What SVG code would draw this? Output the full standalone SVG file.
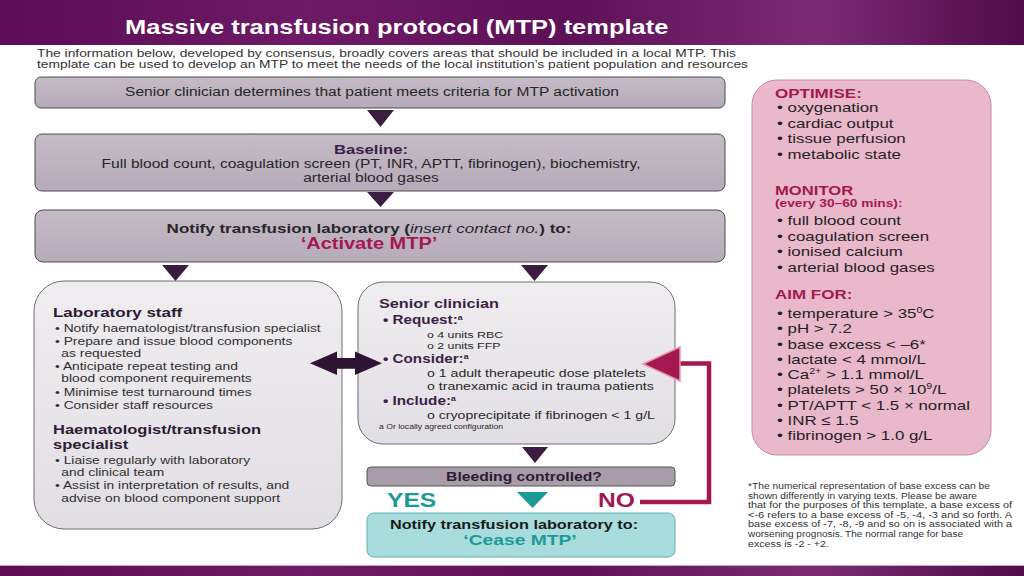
<svg xmlns="http://www.w3.org/2000/svg" width="1024" height="576" viewBox="0 0 1024 576">
<defs>
<linearGradient id="band" x1="0" y1="0" x2="1" y2="0">
<stop offset="0" stop-color="#5c0d55"/>
<stop offset="0.3" stop-color="#6e1a66"/>
<stop offset="0.55" stop-color="#5e1157"/>
<stop offset="0.8" stop-color="#7a2b73"/>
<stop offset="1" stop-color="#4f0b48"/>
</linearGradient>
<linearGradient id="lbox" x1="0" y1="0" x2="0" y2="1">
<stop offset="0" stop-color="#efedf0"/>
<stop offset="1" stop-color="#e2dfe4"/>
</linearGradient>
<linearGradient id="gbox" x1="0" y1="0" x2="0" y2="1">
<stop offset="0" stop-color="#c4bbc6"/>
<stop offset="1" stop-color="#b6acb9"/>
</linearGradient>
</defs>
<style>
text { font-family: "Liberation Sans", Arial, sans-serif; fill: #262626; }
.b { font-weight: bold; }
.pur { fill: #3b1f46; }
.red { fill: #a3184f; }
.teal { fill: #1b9b97; }
.gbox { fill: url(#gbox); stroke: #4d4d4d; stroke-width: 1; }
.lbox { fill: url(#lbox); stroke: #6e6e6e; stroke-width: 1; }
.tri { fill: #3b1d42; }
.lb { font-size: 11.05px; fill: #2e2e2e; }
.rb { font-size: 13.5px; fill: #222; }
.fn { font-size: 8.5px; fill: #333; }
</style>

<g id="header">
<rect x="0" y="0" width="1024" height="45" fill="url(#band)"/>
<text class="b" transform="translate(125 0) scale(1.3 1)" y="34.5" font-size="19.6" style="fill:#fff">Massive transfusion protocol (MTP) template</text>
<text x="37" y="57" font-size="11.3" textLength="699" lengthAdjust="spacingAndGlyphs" style="fill:#333">The information below, developed by consensus, broadly covers areas that should be included in a local MTP. This</text>
<text x="37" y="67.5" font-size="11.3" textLength="711" lengthAdjust="spacingAndGlyphs" style="fill:#333">template can be used to develop an MTP to meet the needs of the local institution’s patient population and resources</text>
</g>

<g id="activation">
<rect x="35" y="77" width="690" height="31" rx="6" class="gbox"/>
<text transform="translate(372 0) scale(1.25 1)" y="96.5" text-anchor="middle" font-size="12.45">Senior clinician determines that patient meets criteria for MTP activation</text>
</g>

<g id="baseline">
<rect x="35" y="134" width="690" height="57" rx="7" class="gbox"/>
<g transform="translate(371 0) scale(1.25 1)" text-anchor="middle">
<text class="b pur" y="154" font-size="13.3">Baseline:</text>
<text y="168" font-size="12.45">Full blood count, coagulation screen (PT, INR, APTT, fibrinogen), biochemistry,</text>
<text y="182" font-size="12.45">arterial blood gases</text>
</g>
</g>

<g id="notify-activate">
<rect x="35" y="210" width="690" height="52" rx="8" class="gbox"/>
<g transform="translate(369 0) scale(1.25 1)" text-anchor="middle">
<text class="b" y="233" font-size="13.6">Notify transfusion laboratory (<tspan font-weight="normal" font-style="italic">insert contact no.</tspan>) to:</text>
<text class="b red" y="249.5" font-size="16">‘Activate MTP’</text>
</g>
</g>

<g id="laboratory">
<rect x="34" y="281" width="308" height="248" rx="30" class="lbox"/>
<g transform="translate(53 0) scale(1.25 1)">
<text class="b" y="317" font-size="13.6" style="fill:#2d1a33">Laboratory staff</text>
<text class="lb" x="1.6" y="332">• Notify haematologist/transfusion  specialist</text>
<text class="lb" x="1.6" y="345">• Prepare and issue blood components</text>
<text class="lb" x="6.7" y="357">as requested</text>
<text class="lb" x="1.6" y="370">• Anticipate repeat testing and</text>
<text class="lb" x="6.7" y="382">blood component requirements</text>
<text class="lb" x="1.6" y="396">• Minimise test turnaround times</text>
<text class="lb" x="1.6" y="409">• Consider staff resources</text>
<text class="b" y="433.8" font-size="13.2" style="fill:#2d1a33">Haematologist/transfusion</text>
<text class="b" y="448.6" font-size="13.2" style="fill:#2d1a33">specialist</text>
<text class="lb" x="1.6" y="464">• Liaise regularly with laboratory</text>
<text class="lb" x="6.7" y="476">and clinical team</text>
<text class="lb" x="1.6" y="489">• Assist in interpretation of results, and</text>
<text class="lb" x="6.7" y="502">advise on blood component support</text>
</g>
</g>

<g id="senior-clinician">
<rect x="358" y="282" width="317" height="162" rx="25" class="lbox"/>
<g transform="translate(379 0) scale(1.25 1)">
<text class="b pur" y="308" font-size="13">Senior clinician</text>
<text class="b pur" x="3.2" y="324" font-size="12.2">• Request:<tspan font-size="7" dy="-4">a</tspan></text>
<text x="38.4" y="338" font-size="9.9">o 4 units RBC</text>
<text x="38.4" y="349" font-size="9.9">o 2 units FFP</text>
<text class="b pur" x="3.2" y="363" font-size="12.2">• Consider:<tspan font-size="7" dy="-4">a</tspan></text>
<text x="38.4" y="377" font-size="11.3">o 1 adult therapeutic dose platelets</text>
<text x="38.4" y="390" font-size="11.3">o  tranexamic acid in trauma patients</text>
<text class="b pur" x="3.2" y="405" font-size="12.2">• Include:<tspan font-size="7" dy="-4">a</tspan></text>
<text x="38.4" y="419" font-size="11.3">o cryoprecipitate if fibrinogen  &lt; 1 g/L</text>
<text x="0" y="429" font-size="6.9">a  Or locally agreed configuration</text>
</g>
</g>

<g id="bleeding-controlled">
<rect x="367" y="467" width="308" height="19" rx="4" fill="#a99ca9" stroke="#555"/>
<text class="b" transform="translate(524 0) scale(1.25 1)" y="481" text-anchor="middle" font-size="12.55" style="fill:#2e1a33">Bleeding controlled?</text>
</g>

<g id="cease">
<rect x="367" y="513" width="308" height="44" rx="7" fill="#a9dcdc" stroke="#5fb0b0"/>
<text class="b" transform="translate(514 0) scale(1.25 1)" y="529" text-anchor="middle" font-size="13" style="fill:#1a1a1a">Notify transfusion laboratory to:</text>
<text class="b teal" transform="translate(520 0) scale(1.25 1)" y="545" text-anchor="middle" font-size="15.4">‘Cease MTP’</text>
</g>

<g id="targets">
<rect x="752" y="80" width="239" height="375" rx="25" fill="#eab8cb" stroke="#c58aa2"/>
<g transform="translate(775 0) scale(1.25 1)">
<text class="b red" y="98" font-size="13.6">OPTIMISE:</text>
<text class="rb" x="1.6" y="112.5">• oxygenation</text>
<text class="rb" x="1.6" y="128">• cardiac output</text>
<text class="rb" x="1.6" y="143.5">• tissue perfusion</text>
<text class="rb" x="1.6" y="159">• metabolic state</text>
<text class="b red" y="195" font-size="13.3">MONITOR</text>
<text class="b red" y="207" font-size="11">(every 30–60 mins):</text>
<text class="rb" x="1.6" y="225.5">• full blood count</text>
<text class="rb" x="1.6" y="241">• coagulation screen</text>
<text class="rb" x="1.6" y="256.5">• ionised calcium</text>
<text class="rb" x="1.6" y="272">• arterial blood gases</text>
<text class="b red" y="299" font-size="13.6">AIM FOR:</text>
<text class="rb" x="1.6" y="318">• temperature  &gt; 35<tspan font-size="8.5" dy="-5">0</tspan><tspan dy="5">C</tspan></text>
<text class="rb" x="1.6" y="333.3">• pH &gt; 7.2</text>
<text class="rb" x="1.6" y="348.6">• base excess &lt; –6*</text>
<text class="rb" x="1.6" y="364">• lactate &lt; 4 mmol/L</text>
<text class="rb" x="1.6" y="379.2">• Ca<tspan font-size="8.5" dy="-5">2+</tspan><tspan dy="5"> &gt; 1.1 mmol/L</tspan></text>
<text class="rb" x="1.6" y="394.5">• platelets &gt; 50 × 10<tspan font-size="8.5" dy="-5">9</tspan><tspan dy="5">/L</tspan></text>
<text class="rb" x="1.6" y="410">• PT/APTT &lt; 1.5 × normal</text>
<text class="rb" x="1.6" y="425.2">• INR ≤ 1.5</text>
<text class="rb" x="1.6" y="440.5">• fibrinogen &gt; 1.0 g/L</text>
</g>
</g>

<g id="footnote">
<text class="fn" x="748" y="489" textLength="242" lengthAdjust="spacingAndGlyphs">*The numerical representation of base excess can be</text>
<text class="fn" x="748" y="498.6" textLength="229" lengthAdjust="spacingAndGlyphs">shown differently in varying texts. Please be aware</text>
<text class="fn" x="748" y="508.2" textLength="264" lengthAdjust="spacingAndGlyphs">that for the purposes of this template, a base excess of</text>
<text class="fn" x="748" y="517.8" textLength="264" lengthAdjust="spacingAndGlyphs">&lt;-6 refers to a base excess of  -5, -4, -3 and so forth. A</text>
<text class="fn" x="748" y="527.4" textLength="264" lengthAdjust="spacingAndGlyphs">base excess of -7, -8, -9 and so on is associated with a</text>
<text class="fn" x="748" y="537" textLength="215" lengthAdjust="spacingAndGlyphs">worsening prognosis. The normal range for base</text>
<text class="fn" x="748" y="546.6" textLength="81" lengthAdjust="spacingAndGlyphs">excess is -2 - +2.</text>
</g>

<g id="connectors">
<polygon class="tri" points="367,110 394,110 380.5,127"/>
<polygon class="tri" points="367,192 394,192 380.5,207"/>
<polygon class="tri" points="162,265 189,265 175.5,281"/>
<polygon class="tri" points="521,265 548,265 534.5,281"/>
<polygon class="tri" points="522,447 548,447 535,463"/>
<polygon fill="#2e1433" points="310,363.3 337,351.5 337,358 355,358 355,351.5 382,363.3 355,375 355,368.8 337,368.8 337,375"/>
<polygon fill="#1b9b97" points="517,492 548,492 532.5,508"/>
<path d="M640,502 H709 V363.5 H676" fill="none" stroke="#a3184f" stroke-width="4.5"/>
<polygon points="643,364 680,347 680,381" fill="#a3184f" stroke="#e795ad" stroke-width="1.5"/>
<text class="b teal" transform="translate(387 0) scale(1.25 1)" y="507" font-size="19.7">YES</text>
<text class="b red" transform="translate(598 0) scale(1.25 1)" y="507" font-size="19.7">NO</text>
</g>

<g id="footer">
<rect x="0" y="565" width="1024" height="1" fill="#c9a9c5"/>
<rect x="0" y="566" width="1024" height="10" fill="url(#band)"/>
</g>
</svg>
